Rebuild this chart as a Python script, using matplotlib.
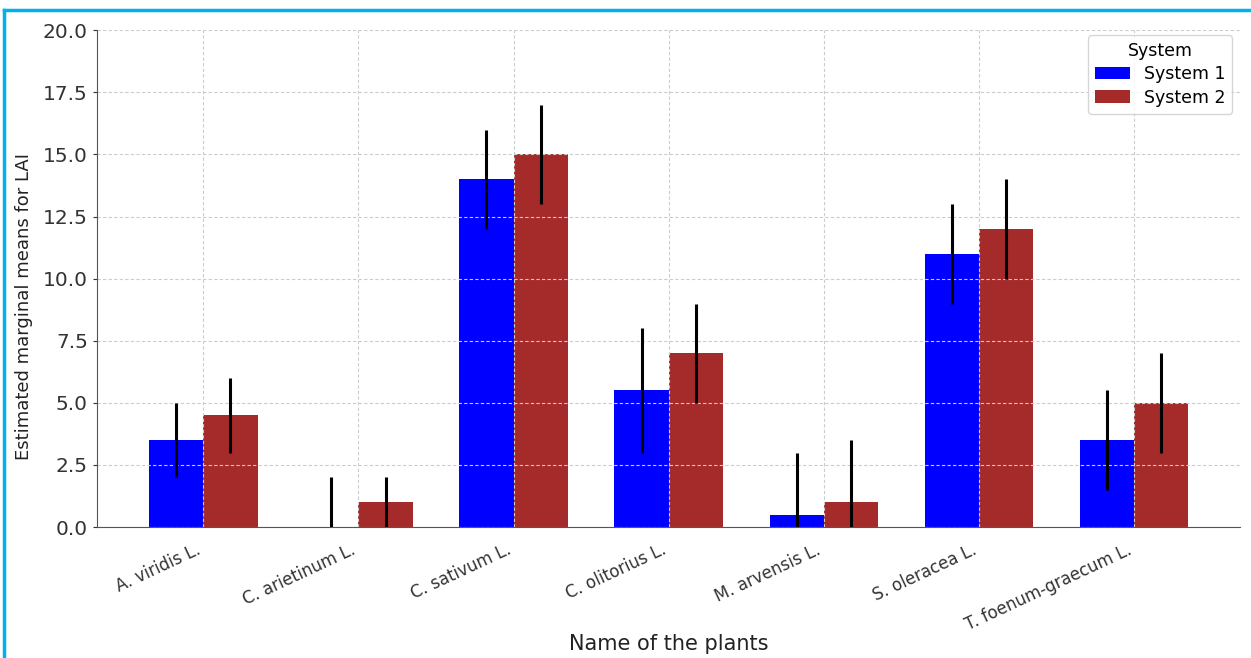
import numpy as np
import matplotlib.pyplot as plt
from matplotlib.lines import Line2D

# Data
plants = ['A. viridis L.', 'C. arietinum L.', 'C. sativum L.', 'C. olitorius L.',
          'M. arvensis L.', 'S. oleracea L.', 'T. foenum-graecum L.']
system1 = [3.5, 0.0, 14.0, 5.5, 0.5, 11.0, 3.5]
system2 = [4.5, 1.0, 15.0, 7.0, 1.0, 12.0, 5.0]
err1 = [1.5, 2.0, 2.0, 2.5, 2.5, 2.0, 2.0]
err2 = [1.5, 1.0, 2.0, 2.0, 2.5, 2.0, 2.0]

x = np.arange(len(plants))
width = 0.35

fig = plt.figure(figsize=(12.51, 6.58), dpi=100)
ax = fig.add_axes([0.0775, 0.199, 0.914, 0.755])

ax.bar(x - width / 2, system1, width, yerr=err1, color='blue', label='System 1',
       error_kw=dict(ecolor='black', elinewidth=2.2, capsize=0))
ax.bar(x + width / 2, system2, width, yerr=err2, color='#a52a2a', label='System 2',
       error_kw=dict(ecolor='black', elinewidth=2.2, capsize=0))

ax.set_ylim(0, 20)
ax.set_yticks(np.arange(0, 20.1, 2.5))
ax.set_xticks(x)
ax.set_xticklabels(plants, rotation=25, ha='right', fontsize=12, color='#333333')
ax.tick_params(axis='y', labelsize=14.5, colors='#333333', length=3, width=0.8)
ax.tick_params(axis='x', length=0, pad=10)
ax.set_xlabel('Name of the plants', fontsize=15, color='#222222')
ax.xaxis.set_label_coords(0.5, -0.215)
ax.set_ylabel('Estimated marginal means for LAI', fontsize=13, color='#222222')
ax.yaxis.set_label_coords(-0.056, 0.443)
ax.grid(True, linestyle=(0, (3, 2)), color='#cccccc', linewidth=0.8)
ax.spines['top'].set_visible(False)
ax.spines['right'].set_visible(False)
ax.spines['left'].set_color('#555555')
ax.spines['bottom'].set_color('#555555')

leg = ax.legend(title='System', fontsize=12.5, title_fontsize=12.5, loc='upper right',
                bbox_to_anchor=(0.993, 0.99), borderaxespad=0, labelspacing=0.3,
                handlelength=2.0, borderpad=0.4)

# light blue frame (top and left edges) around the picture
fig.lines.append(Line2D([0.003, 1.0], [0.985, 0.985], transform=fig.transFigure,
                        color='#00b0f0', linewidth=2.5))
fig.lines.append(Line2D([0.003, 0.003], [0.0, 0.985], transform=fig.transFigure,
                        color='#00b0f0', linewidth=2.5))

fig.savefig('out.png', dpi=100)
